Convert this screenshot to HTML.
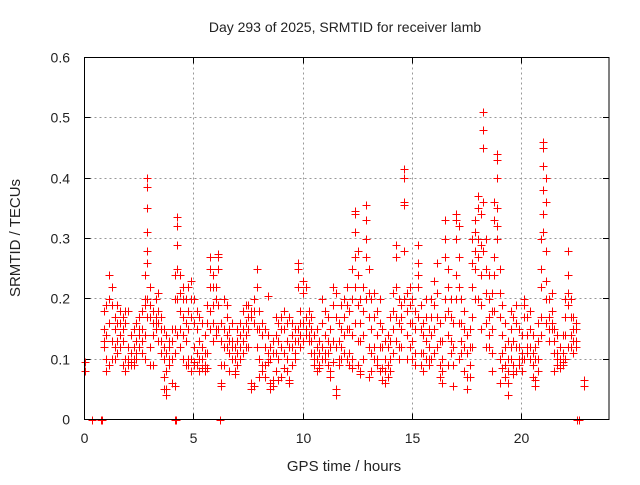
<!DOCTYPE html>
<html><head><meta charset="utf-8"><style>
body{margin:0;background:#fff;}
svg text{font-family:"Liberation Sans",sans-serif;fill:#222;}
</style></head><body>
<svg id="chart" width="640" height="480" viewBox="0 0 640 480" xmlns="http://www.w3.org/2000/svg">
<text x="345" y="32" font-size="14" text-anchor="middle">Day 293 of 2025, SRMTID for receiver lamb</text>
<text x="0" y="0" font-size="15" text-anchor="middle" transform="translate(20,238) rotate(-90)">SRMTID / TECUs</text>
<text x="344" y="471" font-size="15" text-anchor="middle">GPS time / hours</text>
<g id="grid"></g>
<g id="ticks"></g>
<g id="points"></g>
<rect x="84.5" y="57.5" width="524.5" height="362" fill="none" stroke="#000" stroke-width="1"/>
</svg>
<script>
const xTicks=[0,5,10,15,20];
const yTicks=[0,0.1,0.2,0.3,0.4,0.5,0.6];
const yTickLabels=["0","0.1","0.2","0.3","0.4","0.5","0.6"];
const sampleHours=[0,0.875,1,1.125,1.25,1.375,1.5,1.625,1.75,1.875,2,2.125,2.25,2.375,2.5,2.625,2.75,2.875,3,3.125,3.25,3.375,3.5,3.625,3.75,3.875,4,4.125,4.25,4.375,4.5,4.625,4.75,4.875,5,5.125,5.25,5.375,5.5,5.625,5.75,5.875,6,6.125,6.25,6.375,6.5,6.625,6.75,6.875,7,7.125,7.25,7.375,7.5,7.625,7.75,7.875,8,8.125,8.25,8.375,8.5,8.625,8.75,8.875,9,9.125,9.25,9.375,9.5,9.625,9.75,9.875,10,10.125,10.25,10.375,10.5,10.625,10.75,10.875,11,11.125,11.25,11.375,11.5,11.625,11.75,11.875,12,12.125,12.25,12.375,12.5,12.625,12.75,12.875,13,13.125,13.25,13.375,13.5,13.625,13.75,13.875,14,14.125,14.25,14.375,14.5,14.625,14.75,14.875,15,15.125,15.25,15.375,15.5,15.625,15.75,15.875,16,16.125,16.25,16.375,16.5,16.625,16.75,16.875,17,17.125,17.25,17.375,17.5,17.625,17.75,17.875,18,18.125,18.25,18.375,18.5,18.625,18.75,18.875,19,19.125,19.25,19.375,19.5,19.625,19.75,19.875,20,20.125,20.25,20.375,20.5,20.625,20.75,20.875,21,21.125,21.25,21.375,21.5,21.625,21.75,21.875,22,22.125,22.25,22.375,22.5,22.875];
const sampleValues=[
[.095,.08],[.18,.15,.13,.12],[.19,.14,.1,.08],[.24,.2,.16,.09],[.22,.19,.1,.13],[.17,.12,.1,.15],[.19,.16,.13,.11],[.18,.14,.12,.16],[.17,.15,.09,.13],[.16,.1,.08,.18],
[.18,.12,.1,.09],[.14,.11,.095,.09],[.15,.1,.12,.09],[.13,.11,.1,.16],[.17,.14,.12,.15],[.18,.15,.11,.13],[.24,.2,.19,.14,.1],[.40,.385,.35,.31,.28,.26,.2,.17],[.22,.19,.17,.12,.09],[.18,.16,.14,.09],
[.2,.17,.16,.15],[.21,.18,.16,.13],[.17,.15,.13,.11],[.15,.12,.1,.07,.05],[.14,.11,.08,.05,.04],[.13,.12,.1,.09],[.15,.13,.1,.06],[.24,.2,.15,.11,.055],[.335,.32,.29,.25,.2,.14],[.24,.21,.18,.15,.12],
[.22,.2,.17,.14,.1],[.2,.16,.13,.09],[.22,.18,.15,.1,.09],[.23,.2,.17,.1,.08],[.2,.16,.12,.095,.09],[.18,.15,.11,.09],[.17,.13,.1,.08],[.16,.12,.1,.085],[.14,.11,.09,.08],[.19,.16,.11,.085],
[.27,.25,.22,.18,.15],[.24,.22,.19,.16,.13],[.22,.2,.15,.14],[.275,.27,.25,.19,.15],[.16,.13,.09,.06,.055],[.2,.15,.12,.09],[.19,.17,.14,.12],[.15,.13,.11,.08],[.16,.13,.12,.1],[.12,.1,.08,.075],
[.15,.13,.11,.09],[.16,.14,.12,.1],[.18,.15,.13,.11],[.19,.16,.14,.12],[.19,.17,.15,.12],[.18,.17,.06,.05],[.2,.18,.16,.055],[.25,.22,.15,.12],[.18,.15,.1,.07],[.16,.14,.09,.08],
[.15,.12,.09,.07],[.205,.14,.11,.095],[.12,.1,.06,.05],[.13,.11,.065,.055],[.17,.14,.11,.08],[.16,.13,.1,.065],[.17,.15,.12,.07],[.18,.15,.11,.085],[.16,.13,.1,.08],[.17,.12,.065,.06],
[.16,.14,.12,.09],[.15,.13,.11,.1],[.26,.25,.22,.15,.13],[.18,.16,.14,.12],[.23,.21,.16,.13],[.22,.17,.15,.14],[.18,.16,.14,.13],[.17,.15,.13,.11],[.14,.11,.1,.09],[.15,.12,.1,.08],
[.13,.11,.09,.085],[.2,.16,.12,.1],[.18,.14,.11,.1],[.17,.13,.11,.09],[.15,.12,.08,.07],[.22,.19,.13,.095],[.21,.17,.12,.05,.04],[.16,.13,.1,.09],[.19,.15,.12,.1],[.2,.17,.14,.11],
[.22,.19,.15,.1],[.18,.15,.11,.09],[.25,.2,.14,.1,.085],[.345,.34,.31,.27,.22,.16],[.28,.24,.19,.13,.09],[.2,.16,.13,.08,.075],[.22,.18,.14,.1],[.355,.33,.3,.27,.2],[.25,.21,.17,.12,.07],[.2,.15,.11,.08],
[.21,.17,.12,.1],[.18,.14,.1,.09],[.2,.16,.12,.08],[.15,.12,.085,.065],[.13,.1,.08,.06],[.14,.12,.09,.07],[.17,.13,.1,.08],[.21,.18,.15,.11],[.29,.27,.22,.17,.13],[.2,.16,.12,.1],
[.19,.17,.15,.12],[.415,.4,.36,.355,.28,.2],[.21,.18,.14,.1],[.22,.19,.16,.12],[.2,.16,.13,.1],[.18,.15,.11,.09],[.29,.26,.24,.22,.17],[.19,.15,.11,.09],[.16,.14,.11,.08],[.2,.17,.13,.1],
[.15,.12,.1,.09],[.2,.17,.14,.1],[.23,.19,.15,.11],[.26,.21,.17,.12],[.16,.13,.09,.07],[.13,.1,.08,.06],[.33,.3,.27,.2,.17],[.25,.22,.18,.14,.09],[.2,.17,.13,.11],[.16,.12,.09,.055],
[.34,.33,.3,.24,.2],[.32,.27,.22,.16,.1],[.2,.16,.13,.11],[.18,.15,.12,.08],[.14,.11,.07,.05],[.15,.12,.09,.07],[.3,.26,.22,.17,.12],[.33,.31,.28,.25,.2],[.37,.35,.3,.27,.2],[.34,.29,.24,.19,.15],
[.51,.48,.45,.36,.28],[.3,.25,.21,.16,.12],[.24,.2,.17,.14,.12],[.21,.18,.15,.11,.08],[.36,.33,.27,.24,.18],[.44,.43,.4,.35,.32,.3],[.25,.21,.17,.1,.06],[.19,.14,.11,.085],[.16,.12,.09,.07],[.13,.1,.08,.06,.04],
[.18,.15,.12,.1],[.17,.13,.09,.075],[.19,.16,.12,.08],[.15,.12,.1,.09],[.14,.11,.1,.08],[.2,.19,.17,.1],[.17,.14,.12,.11],[.18,.15,.12,.1],[.14,.11,.09,.07],[.12,.1,.065,.055],
[.16,.13,.1,.08],[.3,.25,.22,.17,.14],[.46,.45,.42,.38,.34,.31],[.4,.36,.28,.23,.2,.16],[.2,.17,.15,.13],[.21,.18,.16,.15],[.15,.13,.11,.08],[.14,.11,.1,.09],[.12,.1,.09,.085],[.14,.11,.095,.09],
[.2,.17,.14,.1],[.28,.24,.21,.19,.12],[.2,.17,.14,.12],[.17,.15,.13,.11],[.16,.15,.13,.12],[.065,.055]
];
const zeroHours=[0.35,0.75,0.8,4.15,4.2,6.2,22.55,22.65];

const NS="http://www.w3.org/2000/svg";
const X0=84.5,X1=609,Y0=419.5,Y1=57.5;
function xs(h){return X0+h/24*(X1-X0);}
function ys(v){return Y0-v/0.6*(Y0-Y1);}
function mk(tag,attrs,parent){const e=document.createElementNS(NS,tag);for(const k in attrs)e.setAttribute(k,attrs[k]);parent.appendChild(e);return e;}
const grid=document.getElementById('grid'),ticks=document.getElementById('ticks'),pts=document.getElementById('points');
xTicks.forEach((t,i)=>{
  const x=Math.round(xs(t)-0.5)+0.5;
  if(t>0){const g=mk('line',{x1:x,x2:x,y1:Y1,y2:Y0,stroke:'#999','stroke-dasharray':'2,3'},grid);
  
  }
  const tk=mk('path',{d:`M${x},${Y0}v-6M${x},${Y1}v6`,stroke:'#000'},ticks);
  
  
  const lb=mk('text',{x:x,y:443,'font-size':14,'text-anchor':'middle'},ticks);
  lb.textContent=String(t);
  
  
});
yTicks.forEach((t,i)=>{
  const y=Math.round(ys(t)-0.5)+0.5;
  if(t>0&&t<0.6){const g=mk('line',{x1:X0,x2:X1,y1:y,y2:y,stroke:'#999','stroke-dasharray':'2,3'},grid);
  
  }
  const tk=mk('path',{d:`M${X0},${y}h6M${X1},${y}h-6`,stroke:'#000'},ticks);
  
  
  const lb=mk('text',{x:70,y:y+5,'font-size':14,'text-anchor':'end'},ticks);
  lb.textContent=yTickLabels[i];
  
  
});
let d='';
function cross(h,v){
  const x=Math.round(xs(h))+0.5,y=Math.round(ys(v))+0.5;
  d+=`M${x-4},${y}h8M${x},${y-4}v8`;
}
sampleHours.forEach((h,i)=>{
  sampleValues[i].forEach(v=>cross(h,v));
});
zeroHours.forEach(h=>cross(h,0));
const p=mk('path',{d:d,stroke:'#ff0000','stroke-width':1,fill:'none'},pts);


</script>
</body></html>
